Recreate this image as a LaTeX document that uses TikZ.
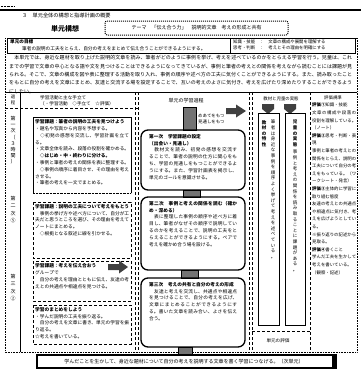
\documentclass[tikz,border=0pt]{standalone}
\usepackage{fontspec}
\newfontfamily\jp{Noto Sans CJK JP}
\XeTeXlinebreaklocale "ja"
\XeTeXlinebreakskip=0pt plus 0.6pt
\def\vtaux#1{\ifx\relax#1\else\hbox to 5pt{\hss#1\hss}\expandafter\vtaux\fi}
\newcommand\vtext[2][5.6pt]{\vbox{\baselineskip=#1\lineskiplimit=-20pt\lineskip=0pt\vtaux#2\relax}}
\tikzset{
  tx/.style={anchor=north west, align=justify, inner sep=0pt, font=\jp\fontsize{4.7}{6.8}\selectfont},
  vt/.style={anchor=north, inner sep=0pt, font=\jp\fontsize{4.5}{5}\selectfont},
  hatch/.style={draw=black, fill=black!55, line width=0.3pt},
  rbox/.style={draw, line width=1.3pt, rounded corners=7pt},
  sbox/.style={draw, line width=0.6pt},
  dbox/.style={draw, densely dashed, line width=0.4pt},
  dark/.style={fill=black!75},
}
\begin{document}
\begin{tikzpicture}[x=1pt,y=-1pt]
\useasboundingbox (0,0) rectangle (361,372);
\fill[white] (0,0) rectangle (361,372);
% top rule and title
\draw[line width=1.1pt] (0,10) -- (361,10);
\draw[densely dotted] (1,6) -- (14,6);
\node[tx, anchor=west, font=\jp\fontsize{5.2}{6}\selectfont] (title) at (22,15.5) {３　単元全体の構想と指導計画の概要};
\node[inner sep=0pt, font=\jp\bfseries\fontsize{7}{8}\selectfont] (kousou) at (65,29) {単元構想};
\draw[line width=1pt, densely dotted, rounded corners=2pt] (105,21) rectangle (288,35);
\node[inner sep=0pt, font=\jp\fontsize{5}{6}\selectfont] (theme) at (196.5,28) {テーマ　「伝え合う力」　説明的文章　考えの形成と共有};
% outer frame
\draw[densely dotted, line width=0.6pt] (5,38) rectangle (357,352);
% goal boxes
\draw[sbox] (7,38) rectangle (230,53);
\draw[sbox] (230,38) rectangle (355,53);
\node[tx, font=\jp\bfseries\fontsize{4.6}{6}\selectfont] (goalh) at (10,39.5) {単元の目標};
\node[tx, text width=200pt] (goal) at (22,46) {筆者の説明の工夫をとらえ、自分の考えをまとめて伝え合うことができるようにする。};
\node[tx, text width=120pt, font=\jp\fontsize{4.4}{6.4}\selectfont] (goalr) at (233,39.5) {知識・技能　：　文章の構成や展開を理解する\\思考・判断　：　考えとその理由を明確にする};
% paragraph
\node[tx, text width=343pt, font=\jp\fontsize{5}{8.3}\selectfont] (para) at (9,55.5) {　本単元では、身近な題材を取り上げた説明的文章を読み、筆者がどのように事例を挙げ、考えを述べているのかをとらえる学習を行う。児童は、これまでの学習で文章の中心となる語や文を見つけることはできるようになってきているが、事例と筆者の考えとの関係を考えながら読むことには課題が見られる。そこで、文章の構成を図や表に整理する活動を取り入れ、事例の順序や述べ方の工夫に気付くことができるようにする。また、読み取ったことをもとに自分の考えを文章にまとめ、友達と交流する場を設定することで、互いの考えのよさに気付き、考えを広げたり深めたりすることができるようにしたい。};
% grid lines
\draw[line width=0.5pt] (5,92) -- (357,92);
\draw[densely dashed, line width=0.4pt] (5,108) -- (138,108);
\draw[line width=0.5pt] (20,92) -- (20,352);
\draw[densely dashed, line width=0.5pt] (135,92) -- (135,352);
\draw[densely dashed, line width=0.5pt] (138,92) -- (138,352);
\draw[densely dashed, line width=0.5pt] (249,92) -- (249,352);
\draw[densely dashed, line width=0.5pt] (252,92) -- (252,352);
\draw[densely dashed, line width=0.5pt] (310,92) -- (310,352);
% label column
\node[vt, font=\jp\fontsize{4.4}{5}\selectfont] (lh) at (13,95) {\vtext{過程}};
\node[vt, font=\jp\fontsize{5}{6}\selectfont] (l1) at (13,116) {\vtext[6.2pt]{第一次（３時間）}};
\node[vt, font=\jp\fontsize{5}{6}\selectfont] (l2) at (13,196) {\vtext[7.4pt]{第二次⑤}};
\node[vt, font=\jp\fontsize{5}{6}\selectfont] (l3) at (13,274) {\vtext[7.4pt]{第三次②}};
% left column
\node[tx, text width=95pt, font=\jp\fontsize{4.6}{6.4}\selectfont] (lhead) at (40,95.5) {学習活動と主な手立て\\（・学習活動　◇手立て　☆評価）};
\draw[sbox] (33,193) -- (33,117) -- (131,117) -- (131,193);
\draw[densely dotted] (33,193) -- (131,193);
\node[tx, text width=94pt] (b1) at (35,119.5) {\textbf{学習課題：筆者の説明の工夫を見つけよう}\\・題名や写真から内容を予想する。\\　◇初発の感想を交流し、学習計画を立てる。\\・文章全体を読み、段落の役割を確かめる。\\　\textbf{◇はじめ・中・終わりに分ける。}\\・事例と筆者の考えの関係を表に整理する。\\　◇事例の順序に着目させ、その理由を考えさせる。\\・筆者の考えを一文でまとめる。};
\draw[dbox] (33,202) rectangle (131,258);
\node[tx, text width=94pt] (b2) at (35,204) {\textbf{学習課題：説明の工夫について考えをもとう}\\　事例の挙げ方や述べ方について、自分が工夫だと思うところを選び、その理由を考えてノートにまとめる。\\　◇根拠となる叙述に線を引かせる。};
\draw[dbox] (33,261) rectangle (131,301);
\node[tx, text width=94pt] (b3) at (35,263.5) {\textbf{学習課題：考えを伝え合おう}\\グループで\\　自分の考えを理由とともに伝え、友達の考えとの共通点や相違点を見つける。};
\fill[dark] (108,264) -- (119,264) -- (119,260.5) -- (128,267) -- (119,273.5) -- (119,270) -- (108,270) -- cycle;
\draw[dbox] (33,305) rectangle (131,344);
\node[tx, text width=94pt] (b4) at (35,307) {\textbf{学習のまとめをしよう}\\・学んだ説明の工夫を振り返る。\\　自分の考えを文章に書き、単元の学習を振り返る。\\☆考えを書いている。};
% center column
\node[inner sep=0pt, font=\jp\fontsize{5}{6}\selectfont] (chead) at (186,101) {単元の学習過程};
\draw[hatch] (183,107) rectangle (196,130);
\node[tx, text width=30pt, font=\jp\fontsize{4.4}{6}\selectfont] (cnote) at (198,114) {めあてをもつ\\見通しをもつ};
\fill[dark] (226,108) -- (236,108) -- (236,104.5) -- (246,111) -- (236,117.5) -- (236,114) -- (226,114) -- cycle;
\draw[rbox] (141,130) rectangle (245,190);
\node[tx, text width=88pt] (r1) at (149,134) {\textbf{第一次　学習課題の設定}\\\textbf{（出会い・見通し）}\\　教材文を読み、初発の感想を交流することで、筆者の説明の仕方に関心をもち、学習の見通しをもつことができるようにする。また、学習計画表を掲示し、単元のゴールを意識させる。};
\draw[hatch] (183,190) rectangle (200,197);
\draw[rbox] (141,197) rectangle (245,270);
\node[tx, text width=88pt] (r2) at (149,201) {\textbf{第二次　事例と考えの関係を読む（確かめ・深める）}\\　表に整理した事例の順序や述べ方に着目し、筆者がなぜその順序で説明しているのかを考えることで、説明の工夫をとらえることができるようにする。ペアで考えを確かめ合う場を設ける。};
\draw[hatch] (181,270) rectangle (198,278);
\draw[rbox] (141,278) rectangle (245,347);
\node[tx, text width=88pt] (r3) at (149,282) {\textbf{第三次　考えの共有と自分の考えの形成}\\　友達と考えを交流し、共通点や相違点を見つけることで、自分の考えを広げ、文章にまとめることができるようにする。書いた文章を読み合い、よさを伝え合う。};
\draw[hatch] (178,347) rectangle (192,355);
% right part
\node[inner sep=0pt, font=\jp\fontsize{4.4}{5}\selectfont] (rhead) at (281,99) {教材と児童の実態};
\fill[dark] (262,104) -- (274,104) -- (274,109) -- (268,114) -- (262,109) -- cycle;
\fill[dark] (284,104) -- (296,104) -- (296,109) -- (290,114) -- (284,109) -- cycle;
\draw[sbox] (258,113) rectangle (279,325);
\draw[sbox] (285,113) rectangle (305,325);
\node[vt, font=\jp\bfseries\fontsize{4.5}{5}\selectfont] (va1) at (264,120) {\vtext{教材の特性}};
\node[vt] (va2) at (273,120) {\vtext{筆者は身近な事例を順序よく挙げて考えを述べている。}};
\node[vt, font=\jp\bfseries\fontsize{4.5}{5}\selectfont] (vb1) at (295,120) {\vtext{児童の実態}};
\node[vt] (vb2) at (295,150) {\vtext{事例と考えの関係を読み取ることに課題がある。}};
\draw[densely dashed] (252,331) -- (310,331);
\node[inner sep=0pt, font=\jp\fontsize{4.6}{5}\selectfont] (reval) at (278,341) {単元の評価};
% far right column
\node[inner sep=0pt, font=\jp\fontsize{4.4}{5}\selectfont] (fhead) at (333,98) {評価規準};
\node[tx, text width=44pt, font=\jp\fontsize{4.4}{7.6}\selectfont] (feval) at (312,103) {\textbf{評価①}知識・技能\\文章の構成や段落の役割を理解している。（ノート）\\\textbf{評価②}思考・判断・表現\\事例と筆者の考えとの関係をとらえ、説明の工夫について自分の考えをもっている。（ワークシート・発言）\\\textbf{評価③}主体的に学習に取り組む態度\\友達の考えとの共通点や相違点に気付き、考えを広げようとしている。\\※振り返りの記述から見取る。\\\textbf{評価④}書くこと\\学んだ工夫を生かして考えを書いている。\\（観察・記述）};
% bottom bar
\draw[line width=1.2pt] (37,355) rectangle (336,368);
\fill[black] (332,355) rectangle (336.6,368);
\node[inner sep=0pt, font=\jp\fontsize{5}{6}\selectfont] (bar) at (184,361.5) {学んだことを生かして、身近な題材について自分の考えを説明する文章を書く学習につなげる。（次単元）};
\end{tikzpicture}
\end{document}
